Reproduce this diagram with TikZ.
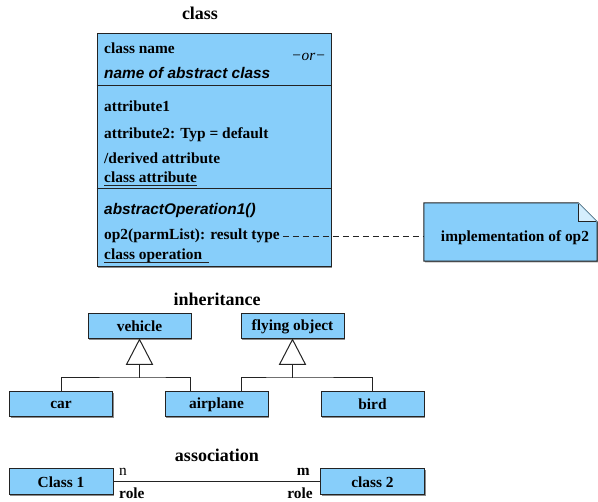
\documentclass[tikz,border=0pt]{standalone}
\usepackage{fontspec}
\setmainfont{Liberation Serif}
\newfontfamily\sfb{Liberation Sans}
\usetikzlibrary{calc,shadows}
\definecolor{boxblue}{RGB}{135,206,250}
\definecolor{edge}{RGB}{35,35,35}
\begin{document}
\begin{tikzpicture}[x=1pt,y=-1pt,
  font=\fontsize{15.4}{18}\selectfont\bfseries,
  shade/.style={drop shadow={shadow xshift=1.2pt, shadow yshift=-1.2pt, fill=black!45, opacity=1}},
  box/.style={draw=edge, line width=1pt, fill=boxblue, shade, inner sep=0pt},
  smallbox/.style={box, minimum width=103pt, minimum height=25pt},
  txt/.style={anchor=base west, inner sep=0pt},
  rtxt/.style={anchor=base east, inner sep=0pt},
  title/.style={anchor=base, inner sep=0pt, font=\fontsize{18}{20}\selectfont\bfseries},
  sfit/.style={txt, font=\fontsize{15.4}{18}\selectfont\sfb\bfseries\itshape},
  conn/.style={draw=edge, line width=1pt},
  tri/.style={draw=edge, line width=1pt, fill=white}]
\useasboundingbox (0,0) rectangle (598,502);

% ---------------- class ----------------
\node[title] (tclass) at (200,20) {class};
\node[box, minimum width=234pt, minimum height=233pt] (cls) at (214,150.5) {};
\draw[conn] ($(cls.north west)+(0,52)$) -- ($(cls.north east)+(0,52)$);
\draw[conn] ($(cls.north west)+(0,155)$) -- ($(cls.north east)+(0,155)$);

\node[txt] (cn) at (104,53.5) {class name};
\node[rtxt, font=\fontsize{15.4}{18}\selectfont\mdseries\itshape] (or) at (326,61) {−or−};
\node[sfit] (an) at (104,78.5) {name of abstract class};
\node[txt] (a1) at (104,111.5) {attribute1};
\node[txt] (a2) at (104,138.5) {attribute2: Typ = default};
\node[txt] (da) at (104,163.5) {/derived attribute};
\node[txt] (ca) at (104,182.5) {class attribute};
\draw[conn, line width=0.9pt] ($(ca.base west)+(0,2.5)$) -- ($(ca.base east)+(0,2.5)$);
\node[sfit] (ao) at (104,214.5) {abstractOperation1()};
\node[txt] (op2) at (104,239.5) {op2(parmList): result type};
\node[txt] (co) at (104,259.5) {class operation};
\draw[conn, line width=0.9pt] ($(co.base west)+(0,3)$) -- ($(co.base east)+(7,3)$);

% ---------------- note ----------------
\node[inner sep=0pt, minimum width=173pt, minimum height=58pt] (note) at (510.5,232) {};
\path[box] (note.north west) -- ($(note.north east)+(-19,0)$) -- ($(note.north east)+(0,19)$)
  -- (note.south east) -- (note.south west) -- cycle;
\fill[boxblue!35] ($(note.north east)+(-19,0)$) -- ($(note.north east)+(0,19)$) -- ($(note.north east)+(-19,19)$) -- cycle;
\draw[conn] ($(note.north east)+(-19,0)$) -- ($(note.north east)+(-19,19)$) -- ($(note.north east)+(0,19)$);
\draw[boxblue!60!gray, line width=0.8pt] ($(note.north east)+(-19,0)$) -- ($(note.north east)+(0,19)$);
\node[anchor=base, inner sep=0pt] (notetxt) at (515,242) {implementation of op2};
\draw[conn, dash pattern=on 6pt off 4pt, line width=0.9pt] ($(op2.base east)+(3,-3)$) -- ($(note.west |- op2.base)+(0,-3)$);

% ---------------- inheritance ----------------
\node[title] (tinh) at (217,306) {inheritance};
\node[smallbox] (vehicle) at (139.5,326.5) {vehicle};
\node[smallbox] (flying) at (292.5,326.5) {flying object};
\node[smallbox] (car) at (61,404.5) {car};
\node[smallbox] (airplane) at (216.5,404.5) {airplane};
\node[smallbox] (bird) at (372.5,404.5) {bird};

\path[tri] (vehicle.south) -- ++(-13,25) -- ++(26,0) -- cycle;
\path[tri] (flying.south) -- ++(-13,25) -- ++(26,0) -- cycle;
\coordinate (h1) at ($(vehicle.south)+(0,38.5)$);
\coordinate (h2) at ($(flying.south)+(0,38.5)$);
\draw[conn] ($(vehicle.south)+(0,25)$) -- (h1);
\draw[conn] ($(flying.south)+(0,25)$) -- (h2);
\draw[conn] (car.north) |- (h1) -| ($(airplane.north west)+(26,0)$);
\draw[conn] (bird.north) |- (h2) -| ($(airplane.north west)+(77,0)$);

% ---------------- association ----------------
\node[title] (tass) at (217,462) {association};
\node[smallbox, minimum width=104pt, minimum height=26pt] (c1) at (61,482) {Class 1};
\node[smallbox, minimum width=104pt, minimum height=26pt] (c2) at (372.5,482) {class 2};
\draw[conn] (c1.east) -- (c2.west);
\node[txt, font=\fontsize{15.4}{18}\selectfont\mdseries] (n) at (119,476) {n};
\node[txt] (r1) at (119,499) {role};
\node[rtxt] (m) at (310,476) {m};
\node[rtxt] (r2) at (313,499) {role};
\end{tikzpicture}
\end{document}
